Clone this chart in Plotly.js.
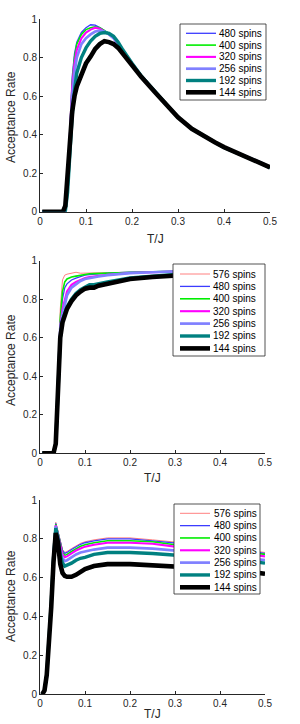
<!DOCTYPE html>
<html><head><meta charset="utf-8">
<script src="https://cdn.plot.ly/plotly-3.0.1.min.js"></script>
<style>html,body{margin:0;padding:0;background:#fff}#chart{width:300px;height:724px}</style>
</head><body><div id="chart"></div>
<script>
// ---------- data ----------
const seriesNames = ['576 spins','480 spins','400 spins','320 spins','256 spins','192 spins','144 spins'];

// Panel 1 (no 576-spin curve)
const t1 = [0.005,0.05,0.055,0.06,0.065,0.07,0.075,0.08,0.09,0.1,0.11,0.12,0.13,0.14,0.15,0.16,0.17,0.18,0.2,0.22,0.25,0.28,0.3,0.33,0.35,0.38,0.4,0.43,0.45,0.48,0.5];
const p1_480 = [0,0,0,0.15,0.42,0.7,0.82,0.88,0.93,0.955,0.97,0.968,0.955,0.94,0.925,0.9,0.87,0.835,0.77,0.705,0.625,0.545,0.49,0.43,0.40,0.36,0.335,0.305,0.285,0.255,0.23];
const p1_400 = [0,0,0,0.15,0.4,0.67,0.8,0.87,0.92,0.945,0.955,0.96,0.955,0.94,0.925,0.9,0.87,0.835,0.77,0.705,0.625,0.545,0.49,0.43,0.40,0.36,0.335,0.305,0.285,0.255,0.23];
const p1_320 = [0,0,0,0.15,0.4,0.65,0.77,0.84,0.9,0.93,0.945,0.955,0.95,0.935,0.92,0.9,0.87,0.835,0.77,0.705,0.625,0.545,0.49,0.43,0.40,0.36,0.335,0.305,0.285,0.255,0.23];
const p1_256 = [0,0,0,0.15,0.38,0.6,0.72,0.8,0.87,0.9,0.92,0.935,0.94,0.935,0.92,0.9,0.87,0.835,0.77,0.705,0.625,0.545,0.49,0.43,0.40,0.36,0.335,0.305,0.285,0.255,0.23];
const p1_192 = [0,0,0,0.1,0.33,0.5,0.63,0.72,0.8,0.85,0.885,0.91,0.925,0.93,0.925,0.91,0.88,0.84,0.77,0.705,0.625,0.545,0.49,0.43,0.40,0.36,0.333,0.303,0.283,0.252,0.228];
const p1_144 = [0,0,0.03,0.2,0.38,0.52,0.6,0.65,0.71,0.77,0.805,0.845,0.87,0.885,0.88,0.87,0.85,0.82,0.76,0.70,0.62,0.54,0.49,0.43,0.40,0.36,0.335,0.305,0.285,0.255,0.23];

// Panel 2
const t2 = [0.005,0.03,0.035,0.04,0.045,0.05,0.055,0.06,0.07,0.08,0.09,0.1,0.11,0.12,0.13,0.15,0.2,0.25,0.3,0.35,0.4,0.45,0.5];
const p2_576 = [0,0,0.05,0.35,0.75,0.9,0.925,0.93,0.935,0.94,0.935,0.935,0.936,0.937,0.937,0.938,0.94,0.943,0.945,0.947,0.948,0.95,0.95];
const p2_480 = [0,0,0.05,0.33,0.68,0.8,0.86,0.88,0.9,0.91,0.918,0.925,0.928,0.93,0.932,0.935,0.94,0.943,0.946,0.949,0.951,0.953,0.955];
const p2_400 = [0,0,0.05,0.34,0.7,0.84,0.89,0.905,0.915,0.92,0.925,0.93,0.932,0.933,0.934,0.936,0.94,0.943,0.945,0.947,0.948,0.95,0.95];
const p2_320 = [0,0,0.05,0.32,0.66,0.75,0.8,0.84,0.875,0.89,0.9,0.91,0.915,0.918,0.92,0.927,0.936,0.941,0.945,0.948,0.95,0.952,0.953];
const p2_256 = [0,0,0.05,0.32,0.65,0.72,0.78,0.82,0.86,0.88,0.895,0.905,0.91,0.915,0.918,0.925,0.935,0.94,0.945,0.948,0.95,0.953,0.955];
const p2_192 = [0,0,0.05,0.3,0.6,0.69,0.73,0.76,0.8,0.83,0.85,0.865,0.875,0.875,0.88,0.89,0.91,0.92,0.928,0.933,0.938,0.942,0.943];
const p2_144 = [0,0,0.05,0.3,0.6,0.68,0.72,0.75,0.79,0.82,0.84,0.855,0.86,0.86,0.87,0.88,0.905,0.915,0.925,0.93,0.935,0.94,0.94];

// Panel 3
const t3 = [0.005,0.01,0.015,0.02,0.025,0.03,0.035,0.04,0.045,0.05,0.055,0.06,0.07,0.08,0.09,0.1,0.12,0.15,0.2,0.25,0.3,0.35,0.4,0.45,0.5];
const p3_576 = [0,0.02,0.1,0.27,0.49,0.73,0.885,0.84,0.785,0.745,0.73,0.735,0.75,0.765,0.777,0.785,0.795,0.805,0.805,0.795,0.785,0.772,0.76,0.745,0.73];
const p3_480 = [0,0.02,0.1,0.27,0.49,0.73,0.88,0.835,0.78,0.74,0.725,0.73,0.745,0.76,0.772,0.78,0.79,0.8,0.8,0.79,0.78,0.768,0.755,0.74,0.725];
const p3_400 = [0,0.02,0.1,0.27,0.48,0.72,0.875,0.83,0.77,0.73,0.715,0.72,0.735,0.75,0.762,0.77,0.78,0.79,0.79,0.785,0.77,0.76,0.75,0.735,0.72];
const p3_320 = [0,0.02,0.1,0.26,0.48,0.72,0.87,0.82,0.76,0.72,0.705,0.71,0.725,0.74,0.75,0.76,0.77,0.78,0.78,0.775,0.76,0.75,0.74,0.725,0.71];
const p3_256 = [0,0.02,0.1,0.26,0.47,0.71,0.865,0.81,0.74,0.7,0.685,0.69,0.705,0.72,0.73,0.735,0.745,0.755,0.755,0.75,0.74,0.73,0.72,0.705,0.69];
const p3_192 = [0,0.02,0.1,0.26,0.47,0.7,0.855,0.8,0.72,0.675,0.66,0.665,0.675,0.69,0.7,0.705,0.72,0.73,0.73,0.725,0.715,0.708,0.7,0.69,0.675];
const p3_144 = [0,0.02,0.1,0.25,0.45,0.68,0.83,0.78,0.67,0.625,0.61,0.605,0.605,0.615,0.63,0.645,0.66,0.67,0.67,0.665,0.655,0.65,0.645,0.635,0.62];

const xTicks = [0,0.1,0.2,0.3,0.4,0.5];
const yTicks = [0,0.2,0.4,0.6,0.8,1];
const xTitle = 'T/J';
const yTitle = 'Acceptance Rate';

// ---------- styles ----------
const colors = ['#ff8080','#3c3cff','#00ee00','#ff00ff','#8080ff','#008080','#000000'];
const widths = [1, 1.3, 1.6, 2.1, 2.7, 3.4, 4.6];

const panels = [
  {t: t1, ys: [null,p1_480,p1_400,p1_320,p1_256,p1_192,p1_144],
   plot:{x0:40,x1:270,y0:19,y1:211.7}, leg:{x0:180,x1:266,y0:24,y1:100,lx0:186,lx1:216,tx:217,r0:33.3,dr:11.8},
   ytitleY:117, xtitleY:239},
  {t: t2, ys: [p2_576,p2_480,p2_400,p2_320,p2_256,p2_192,p2_144],
   plot:{x0:40,x1:265,y0:260.7,y1:453.3}, leg:{x0:173,x1:265,y0:264,y1:356,lx0:180,lx1:210,tx:211,r0:274,dr:12.4},
   ytitleY:360, xtitleY:478},
  {t: t3, ys: [p3_576,p3_480,p3_400,p3_320,p3_256,p3_192,p3_144],
   plot:{x0:40,x1:265,y0:500,y1:694.3}, leg:{x0:174,x1:260,y0:504,y1:594,lx0:180,lx1:210,tx:212,r0:513.3,dr:12.33},
   ytitleY:596, xtitleY:714}
];

const W = 300, H = 724;
const px = x => x / W;
const py = y => 1 - y / H;
const FONT = 'Liberation Sans, Arial, sans-serif';
const AX = '#262626';

const traces = [];
const shapes = [];
const annotations = [];
const layout = {
  width: W, height: H,
  margin: {l:0, r:0, t:0, b:0},
  paper_bgcolor: '#fff', plot_bgcolor: '#fff',
  showlegend: false,
  font: {family: FONT, color: AX}
};

panels.forEach((p, k) => {
  const sfx = k === 0 ? '' : String(k + 1);
  const xa = 'x' + sfx, ya = 'y' + sfx;
  p.ys.forEach((y, i) => {
    if (!y) return;
    traces.push({
      type: 'scatter', mode: 'lines', x: p.t, y: y, name: seriesNames[i],
      xaxis: xa, yaxis: ya,
      line: {color: colors[i], width: widths[i]}, hoverinfo: 'skip'
    });
  });
  const common = {
    showline: true, linecolor: AX, linewidth: 1, mirror: false,
    ticks: 'inside', ticklen: 3, tickcolor: AX, tickwidth: 1,
    showgrid: false, zeroline: false, fixedrange: true,
    tickfont: {family: FONT, size: 10, color: AX}
  };
  layout['xaxis' + sfx] = Object.assign({}, common, {
    domain: [px(p.plot.x0), px(p.plot.x1)], range: [0, 0.5], anchor: ya,
    tickmode: 'array', tickvals: xTicks, ticktext: xTicks.map(String)
  });
  layout['yaxis' + sfx] = Object.assign({}, common, {
    domain: [py(p.plot.y1), py(p.plot.y0)], range: [0, 1], anchor: xa,
    tickmode: 'array', tickvals: yTicks, ticktext: yTicks.map(String)
  });
  // axis titles
  annotations.push({xref:'paper', yref:'paper', x: px((p.plot.x0 + p.plot.x1) / 2), y: py(p.xtitleY),
    text: xTitle, showarrow: false, xanchor: 'center', yanchor: 'middle',
    font: {family: FONT, size: 12, color: AX}});
  annotations.push({xref:'paper', yref:'paper', x: px(11), y: py(p.ytitleY),
    text: yTitle, showarrow: false, textangle: -90, xanchor: 'center', yanchor: 'middle',
    font: {family: FONT, size: 12, color: AX}});
  // legend box
  const L = p.leg;
  shapes.push({type:'rect', xref:'paper', yref:'paper', x0: px(L.x0), x1: px(L.x1), y0: py(L.y1), y1: py(L.y0),
    fillcolor:'#fff', line:{color: AX, width: 0.8}, layer:'above'});
  let row = 0;
  p.ys.forEach((y, i) => {
    if (!y) return;
    const yy = py(L.r0 + row * L.dr);
    shapes.push({type:'line', xref:'paper', yref:'paper', x0: px(L.lx0), x1: px(L.lx1), y0: yy, y1: yy,
      line:{color: colors[i], width: widths[i]}, layer:'above'});
    annotations.push({xref:'paper', yref:'paper', x: px(L.tx), y: yy, text: seriesNames[i],
      showarrow: false, xanchor: 'left', yanchor: 'middle',
      font: {family: FONT, size: 10, color: '#000'}});
    row++;
  });
});

layout.shapes = shapes;
layout.annotations = annotations;
Plotly.newPlot('chart', traces, layout, {staticPlot: true, displayModeBar: false});
</script>
</body></html>
